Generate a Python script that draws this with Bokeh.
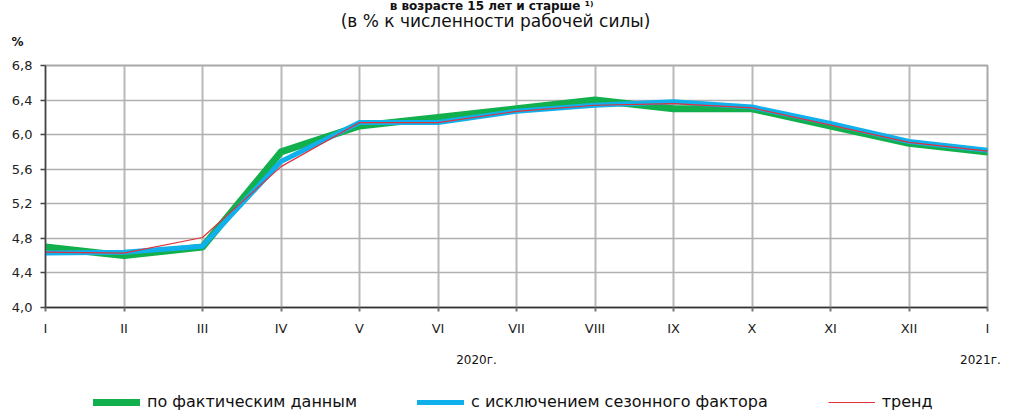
from bokeh.plotting import figure
from bokeh.models import (FixedTicker, CustomJSTickFormatter, Legend, LegendItem, Range1d,
                          LinearAxis, Label, Title)
from bokeh.layouts import column
from bokeh.embed import file_html
from bokeh.resources import INLINE

months = ["I", "II", "III", "IV", "V", "VI", "VII", "VIII", "IX", "X", "XI", "XII", "I"]
actual = [4.7, 4.6, 4.7, 5.8, 6.1, 6.2, 6.3, 6.4, 6.3, 6.3, 6.1, 5.9, 5.8]
seasonal = [4.63, 4.64, 4.71, 5.69, 6.14, 6.14, 6.27, 6.34, 6.38, 6.32, 6.13, 5.92, 5.82]
trend = [4.64, 4.63, 4.81, 5.63, 6.14, 6.14, 6.27, 6.34, 6.36, 6.31, 6.11, 5.91, 5.81]
y_ticks = [4.0, 4.4, 4.8, 5.2, 5.6, 6.0, 6.4, 6.8]
year_labels = ["2020г.", "2021г."]
series_names = ["по фактическим данным", "с исключением сезонного фактора", "тренд"]
title_text = "в возрасте 15 лет и старше ¹⁾"
subtitle_text = "(в % к численности рабочей силы)"
unit_text = "%"

FONT = "DejaVu Sans"
W = 1009
LEFT, RIGHT = 45, 22
xs = list(range(len(months)))

STYLES = [dict(line_color="#12b04c", line_width=7, line_join="round", line_cap="round"),
          dict(line_color="#10b0ec", line_width=5, line_join="round", line_cap="round"),
          dict(line_color="#e0303a", line_width=1.2, line_join="round")]
SERIES = [actual, seasonal, trend]

# ---------------- header (titles) ----------------
head = figure(width=W, height=48, output_backend="svg", toolbar_location=None, title=None,
              x_range=Range1d(0, 1), y_range=Range1d(0, 1), x_axis_location=None,
              y_axis_location=None, min_border=0, min_border_left=LEFT, min_border_right=RIGHT)
head.outline_line_color = None
head.grid.visible = False

def head_label(x, y, text, size, bold=False):
    head.add_layout(Label(x=x, y=y, x_units="screen", y_units="screen", text=text,
                          text_align="center", text_baseline="middle", text_font=FONT,
                          text_font_size=size, text_color="#111111",
                          text_font_style="bold" if bold else "normal"))

head.add_layout(Title(text=unit_text, align="left", offset=-34, standoff=0,
                      text_font=FONT, text_font_size="12px", text_font_style="bold",
                      text_color="#111111"), "below")

# ---------------- main plot ----------------
p = figure(width=W, height=327, output_backend="svg", toolbar_location=None,
           title=None, x_range=Range1d(0, len(months) - 1), y_range=Range1d(4.0, 6.8),
           min_border_left=LEFT, min_border_right=RIGHT, min_border_top=17, min_border_bottom=68)
p.background_fill_color = "white"
p.border_fill_color = "white"
p.outline_line_color = "#a8a8a8"
p.outline_line_width = 2

for ys, st in zip(SERIES, STYLES):
    p.line(xs, ys, **st)

p.xaxis.ticker = FixedTicker(ticks=xs)
p.xaxis.major_label_overrides = {i: m for i, m in enumerate(months)}
p.xaxis.major_tick_in = 0
p.xaxis.major_tick_out = 4
p.xaxis.major_label_standoff = 9
p.xaxis.minor_tick_line_color = None
p.xaxis.axis_line_color = "#333333"
p.xaxis.axis_line_width = 1.5
p.xaxis.major_tick_line_color = "#777777"
p.xaxis.major_tick_line_width = 2

p.yaxis.ticker = FixedTicker(ticks=y_ticks)
p.yaxis.formatter = CustomJSTickFormatter(code="return tick.toFixed(1).replace('.', ',');")
p.yaxis.major_tick_in = 0
p.yaxis.major_tick_out = 5
p.yaxis.major_label_standoff = 8
p.yaxis.minor_tick_line_color = None
p.yaxis.axis_line_color = "#444444"
p.yaxis.axis_line_width = 1.5
p.yaxis.major_tick_line_color = "#444444"
p.yaxis.major_tick_line_width = 1.5

for ax in (p.xaxis, p.yaxis):
    ax.major_label_text_font = FONT
    ax.major_label_text_font_size = "13px"
    ax.major_label_text_color = "#222222"

p.xgrid.grid_line_color = "#b8b8b8"
p.xgrid.grid_line_width = 2
p.ygrid.grid_line_color = "#b0b0b0"
p.ygrid.grid_line_width = 1.5

year_pos = [5.49, 11.91]
yax = LinearAxis(ticker=FixedTicker(ticks=year_pos),
                 major_label_overrides={year_pos[0]: year_labels[0], year_pos[1]: year_labels[1]},
                 axis_line_color=None, major_tick_line_color=None, minor_tick_line_color=None,
                 major_tick_in=0, major_tick_out=0, major_label_standoff=14,
                 major_label_text_font=FONT, major_label_text_font_size="12px",
                 major_label_text_color="#111111")
p.add_layout(yax, "below")

# ---------------- footer (legend) ----------------
foot = figure(width=W, height=39, output_backend="svg", toolbar_location=None, title=None,
              x_range=Range1d(100, 101), y_range=Range1d(100, 101), x_axis_location=None,
              y_axis_location=None, min_border=0, min_border_left=LEFT, min_border_right=RIGHT)
foot.outline_line_color = None
foot.grid.visible = False
leg_renderers = [foot.line(xs, ys, **st) for ys, st in zip(SERIES, STYLES)]

legend = Legend(items=[LegendItem(label=n, renderers=[r]) for n, r in zip(series_names, leg_renderers)],
                location=(48, 3), orientation="horizontal",
                padding=0, margin=0, spacing=60, border_line_color=None,
                background_fill_alpha=0, glyph_width=47, glyph_height=16,
                label_height=16, label_standoff=7,
                label_text_font=FONT, label_text_font_size="16px", label_text_color="#111111")
foot.add_layout(legend, "center")

layout = column(head, p, foot, spacing=0)

# header labels are positioned from the bottom of the header frame (above the "%" panel)
head_label(446, 12 + 15, title_text, "12px", bold=True)
head_label(450, 12, subtitle_text, "17px")

open("out.html", "w").write(file_html(layout, INLINE))
